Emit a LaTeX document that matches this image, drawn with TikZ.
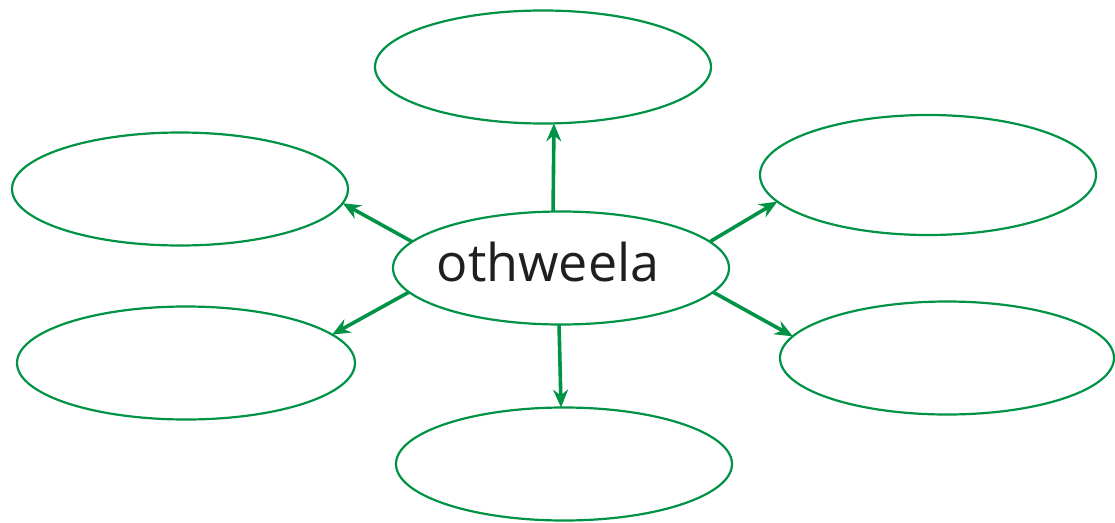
\documentclass[tikz,border=0pt]{standalone}
\usepackage{fontspec}
\setmainfont{Open Sans}
\usetikzlibrary{shapes.geometric,arrows.meta}
\definecolor{lgreen}{RGB}{0,146,69}
\tikzset{
  bubble/.style={ellipse,draw=lgreen,line width=2.2pt,minimum width=336pt,minimum height=113pt,inner sep=0pt,outer sep=0pt},
  link/.style={draw=lgreen,line width=3.6pt,-{Stealth[length=18pt,width=15pt,inset=6pt]}}
}
\begin{document}
\begin{tikzpicture}[x=1pt,y=-1pt]
\useasboundingbox (0,0) rectangle (1115,522);
\node[bubble] (c) at (561,268) {};
\node[font=\fontsize{52}{60}\selectfont,text=black!88] (lbl) at (548,262) {othweela};
\node[bubble] (t) at (543,67) {};
\node[bubble] (ul) at (180,189) {};
\node[bubble,minimum height=120pt] (ur) at (928,175) {};
\node[bubble,minimum width=338pt] (ll) at (186,363) {};
\node[bubble,minimum width=334pt] (lr) at (947,358) {};
\node[bubble] (b) at (564,464) {};
\draw[link] (c.98) -- (t.-79);
\draw[link] (c.170) -- (ul.-5);
\draw[link] (c.189) -- (ll.11);
\draw[link] (c.268) -- (b.93);
\draw[link] (c.10) -- (ur.190);
\draw[link] (c.-9) -- (lr.172);
\end{tikzpicture}
\end{document}
